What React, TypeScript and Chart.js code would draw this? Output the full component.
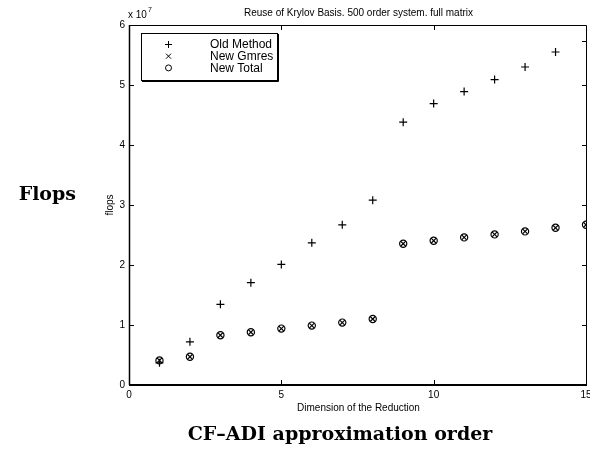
import React, { useEffect, useRef } from 'react';
import { Chart, registerables } from 'chart.js';

Chart.register(...registerables);

// ---------- data (values in units of 1e7 flops) ----------
const TITLE = 'Reuse of Krylov Basis. 500 order system. full matrix';
const X_TITLE = 'Dimension of the Reduction';
const Y_TITLE = 'flops';
const LEFT_LABEL = 'Flops';
const BOTTOM_LABEL = 'CF\u2013ADI approximation order';
const EXPONENT = '7';

const seriesNames = ['Old Method', 'New Gmres', 'New Total'];

const oldX = [1, 2, 3, 4, 5, 6, 7, 8, 9, 10, 11, 12, 13, 14];
const oldMethod = [0.37, 0.72, 1.345, 1.705, 2.01, 2.37, 2.67, 3.08, 4.38, 4.69, 4.89, 5.09, 5.3, 5.55];

const newX = [1, 2, 3, 4, 5, 6, 7, 8, 9, 10, 11, 12, 13, 14, 15];
const newGmres = [0.41, 0.47, 0.83, 0.88, 0.94, 0.99, 1.04, 1.1, 2.355, 2.405, 2.46, 2.51, 2.56, 2.62, 2.67];
const newTotal = [0.41, 0.47, 0.83, 0.88, 0.94, 0.99, 1.04, 1.1, 2.355, 2.405, 2.46, 2.51, 2.56, 2.62, 2.67];

const xMin = 0;
const xMax = 15;
const xStep = 5;
const yMin = 0;
const yMax = 6;
const yStep = 1;
const xTickValues = [5, 10];
const yTickValues = [1, 2, 3, 4, 5];
const extraRightTick = [5.74];

const SANS = '"Liberation Sans", Arial, Helvetica, sans-serif';
const SERIF_BOLD = 'bold 19px "DejaVu Serif", serif';

function toPoints(xs: number[], ys: number[]) {
  return xs.map((x, i) => ({ x, y: ys[i] }));
}

function drawMarker(ctx: CanvasRenderingContext2D, style: string, x: number, y: number, r: number) {
  ctx.beginPath();
  if (style === 'cross') {
    ctx.moveTo(x - r, y);
    ctx.lineTo(x + r, y);
    ctx.moveTo(x, y - r);
    ctx.lineTo(x, y + r);
  } else if (style === 'crossRot') {
    ctx.moveTo(x - r, y - r);
    ctx.lineTo(x + r, y + r);
    ctx.moveTo(x - r, y + r);
    ctx.lineTo(x + r, y - r);
  } else {
    ctx.arc(x, y, r, 0, Math.PI * 2);
  }
  ctx.stroke();
}

const decorPlugin = {
  id: 'decor',
  afterDatasetsDraw(chart: any) {
    const { ctx, chartArea } = chart;
    const xs = chart.scales.x;
    const ys = chart.scales.y;
    const L = Math.round(chartArea.left);
    const R = Math.round(chartArea.right);
    const T = Math.round(chartArea.top);
    const B = Math.round(chartArea.bottom);
    ctx.save();
    ctx.strokeStyle = '#000';
    ctx.fillStyle = '#000';

    // frame
    ctx.lineWidth = 1;
    ctx.beginPath();
    ctx.moveTo(L + 0.5, T + 0.5);
    ctx.lineTo(R + 0.5, T + 0.5);
    ctx.lineTo(R + 0.5, B);
    ctx.stroke();
    ctx.lineWidth = 1.5;
    ctx.beginPath();
    ctx.moveTo(L + 0.5, T);
    ctx.lineTo(L + 0.5, B);
    ctx.stroke();
    ctx.lineWidth = 2;
    ctx.beginPath();
    ctx.moveTo(L, B);
    ctx.lineTo(R + 1, B);
    ctx.stroke();

    // inward ticks
    ctx.lineWidth = 1;
    const tl = 5;
    ctx.beginPath();
    xTickValues.forEach((v) => {
      const px = Math.round(xs.getPixelForValue(v)) + 0.5;
      ctx.moveTo(px, B);
      ctx.lineTo(px, B - tl);
      ctx.moveTo(px, T);
      ctx.lineTo(px, T + tl);
    });
    yTickValues.forEach((v) => {
      const py = Math.round(ys.getPixelForValue(v)) + 0.5;
      ctx.moveTo(L, py);
      ctx.lineTo(L + tl, py);
      ctx.moveTo(R + 1, py);
      ctx.lineTo(R + 1 - tl, py);
    });
    extraRightTick.forEach((v) => {
      const py = Math.round(ys.getPixelForValue(v)) + 0.5;
      ctx.moveTo(R + 1, py);
      ctx.lineTo(R + 1 - tl, py);
    });
    ctx.stroke();

    // tick labels (from the scales' own ticks)
    ctx.font = '10px ' + SANS;
    ctx.textBaseline = 'middle';
    ctx.textAlign = 'center';
    xs.ticks.forEach((t: any) => {
      ctx.fillText(String(t.value), xs.getPixelForValue(t.value), B + 10);
    });
    ctx.textAlign = 'right';
    ys.ticks.forEach((t: any) => {
      ctx.fillText(String(t.value), L - 4, ys.getPixelForValue(t.value));
    });

    // title
    const cx = (L + R) / 2;
    ctx.textAlign = 'center';
    ctx.textBaseline = 'alphabetic';
    ctx.fillText(TITLE, cx + 1, 16);

    // exponent
    ctx.textAlign = 'left';
    ctx.fillText('x 10', L - 1, 18);
    const w10 = ctx.measureText('x 10').width;
    ctx.font = '7px ' + SANS;
    ctx.fillText(EXPONENT, L - 1 + w10 + 1, 12);

    // axis titles
    ctx.font = '10px ' + SANS;
    ctx.textAlign = 'center';
    ctx.textBaseline = 'middle';
    ctx.fillText(X_TITLE, cx + 1, 408);
    ctx.save();
    ctx.translate(110, (T + B) / 2);
    ctx.rotate(-Math.PI / 2);
    ctx.fillText(Y_TITLE, 0, 0);
    ctx.restore();

    // big labels
    ctx.font = SERIF_BOLD;
    ctx.textBaseline = 'alphabetic';
    ctx.textAlign = 'right';
    ctx.fillText(LEFT_LABEL, 76, 200);
    ctx.textAlign = 'center';
    ctx.fillText(BOTTOM_LABEL, 340, 440);

    // legend
    const lx = L + 12;
    const ly = T + 8;
    const lw = 136;
    const lh = 47;
    ctx.fillStyle = '#fff';
    ctx.fillRect(lx, ly, lw, lh);
    ctx.strokeStyle = '#000';
    ctx.lineWidth = 1;
    ctx.strokeRect(lx + 0.5, ly + 0.5, lw, lh);
    ctx.beginPath();
    ctx.moveTo(lx + lw + 1.5, ly + 1);
    ctx.lineTo(lx + lw + 1.5, ly + lh + 1.5);
    ctx.lineTo(lx + 1, ly + lh + 1.5);
    ctx.stroke();
    ctx.fillStyle = '#000';
    ctx.font = '12px ' + SANS;
    ctx.textAlign = 'left';
    ctx.textBaseline = 'middle';
    const sizes: Record<string, number> = { cross: 3.5, crossRot: 2.5, circle: 3 };
    chart.data.datasets.forEach((ds: any, i: number) => {
      const rowY = ly + 11.5 + i * 11.7;
      ctx.lineWidth = 1;
      drawMarker(ctx, ds.pointStyle, lx + 27.5, rowY, sizes[ds.pointStyle]);
      ctx.fillText(ds.label, lx + 69, rowY + 0.5);
    });

    ctx.restore();
  },
};

export default function App() {
  const ref = useRef<HTMLCanvasElement | null>(null);

  useEffect(() => {
    if (!ref.current) return;
    const chart = new Chart(ref.current, {
      type: 'scatter',
      data: {
        datasets: [
          {
            label: seriesNames[0],
            data: toPoints(oldX, oldMethod),
            pointStyle: 'cross',
            pointRadius: 4,
            borderColor: '#000',
            backgroundColor: 'transparent',
            borderWidth: 1.2,
            clip: 0,
          },
          {
            label: seriesNames[1],
            data: toPoints(newX, newGmres),
            pointStyle: 'crossRot',
            pointRadius: 3.6,
            borderColor: '#000',
            backgroundColor: 'transparent',
            borderWidth: 1.2,
            clip: 0,
          },
          {
            label: seriesNames[2],
            data: toPoints(newX, newTotal),
            pointStyle: 'circle',
            pointRadius: 3.6,
            borderColor: '#000',
            backgroundColor: 'transparent',
            borderWidth: 1.2,
            clip: 0,
          },
        ] as any,
      },
      options: {
        responsive: false,
        animation: false,
        events: [],
        layout: { padding: { left: 99, right: 4, top: 25, bottom: 0 }, autoPadding: false },
        plugins: {
          legend: { display: false },
          tooltip: { enabled: false },
          title: { display: false },
        },
        scales: {
          x: {
            type: 'linear',
            min: xMin,
            max: xMax,
            ticks: { stepSize: xStep, display: false },
            grid: { display: false },
            border: { display: false },
            afterFit: (s: any) => {
              s.height = 65;
              s.paddingLeft = 0;
              s.paddingRight = 0;
            },
          },
          y: {
            type: 'linear',
            min: yMin,
            max: yMax,
            ticks: { stepSize: yStep, display: false },
            grid: { display: false },
            border: { display: false },
            afterFit: (s: any) => {
              s.width = 30;
              s.paddingTop = 0;
              s.paddingBottom = 0;
            },
          },
        },
      } as any,
      plugins: [decorPlugin],
    });
    return () => chart.destroy();
  }, []);

  return (
    <div style={{ position: 'absolute', left: 0, top: 0, width: 590, height: 450, background: '#fff' }}>
      <canvas ref={ref} width={590} height={450} style={{ display: 'block', width: 590, height: 450 }} />
    </div>
  );
}
